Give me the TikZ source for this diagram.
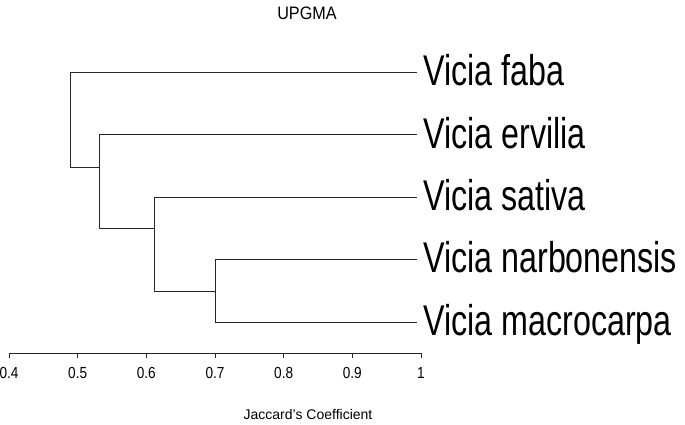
\documentclass[tikz,border=0pt]{standalone}
\usepackage{fontspec}
\setmainfont{Liberation Sans}
\newfontfamily\narrowfont[FakeStretch=0.75]{Liberation Sans}
\newfontfamily\ticknarrow[FakeStretch=0.85]{Liberation Sans}
\newfontfamily\titlenarrow[FakeStretch=0.9]{Liberation Sans}
\begin{document}
\begin{tikzpicture}[x=1pt,y=-1pt,
  branch/.style={line width=1pt,black!85},
  leaflab/.style={anchor=base west,inner sep=0pt,font=\narrowfont\fontsize{43}{43}\selectfont},
  ticklab/.style={anchor=base,inner sep=0pt,font=\ticknarrow\fontsize{16}{16}\selectfont},
  axlab/.style={anchor=base,inner sep=0pt,font=\fontsize{14}{14}\selectfont},
  titlelab/.style={anchor=base,inner sep=0pt,font=\titlenarrow\fontsize{18}{18}\selectfont}]
\useasboundingbox (0,0) rectangle (685,425);
% leaves
\coordinate (l1) at (417,73);
\coordinate (l2) at (417,135);
\coordinate (l3) at (417,197);
\coordinate (l4) at (417,259);
\coordinate (l5) at (417,322);
\node[leaflab] (t1) at (423,86) {Vicia faba};
\node[leaflab] (t2) at (423,148) {Vicia ervilia};
\node[leaflab] (t3) at (423,210) {Vicia sativa};
\node[leaflab] (t4) at (423,272) {Vicia narbonensis};
\node[leaflab] (t5) at (423,335) {Vicia macrocarpa};
% internal nodes
\coordinate (n4) at (215,291);
\coordinate (n3) at (154,228);
\coordinate (n2) at (99,167);
\draw[branch] (l4) -- (215,259) -- (215,322) -- (l5);
\draw[branch] (n4) -- (154,291) -- (154,197) -- (l3);
\draw[branch] (n3) -- (99,228) -- (99,135) -- (l2);
\draw[branch] (n2) -- (70,167) -- (70,73) -- (l1);
% axis
\coordinate (a0) at (9,353);
\coordinate (a1) at (421,353);
\draw[branch] (a0) -- (a1);
\foreach \v/\lab [count=\i] in {0.4/0.4,0.5/0.5,0.6/0.6,0.7/0.7,0.8/0.8,0.9/0.9,1.0/1}{
  \pgfmathsetmacro{\xx}{9+(\v-0.4)*686.7}
  \draw[branch] (\xx,353) -- (\xx,358);
  \node[ticklab] (tk\i) at (\xx,378) {\lab};
}
\node[titlelab] (title) at (307,20) {UPGMA};
\node[axlab] (xlab) at (308,419) {Jaccard's Coefficient};
\end{tikzpicture}
\end{document}
